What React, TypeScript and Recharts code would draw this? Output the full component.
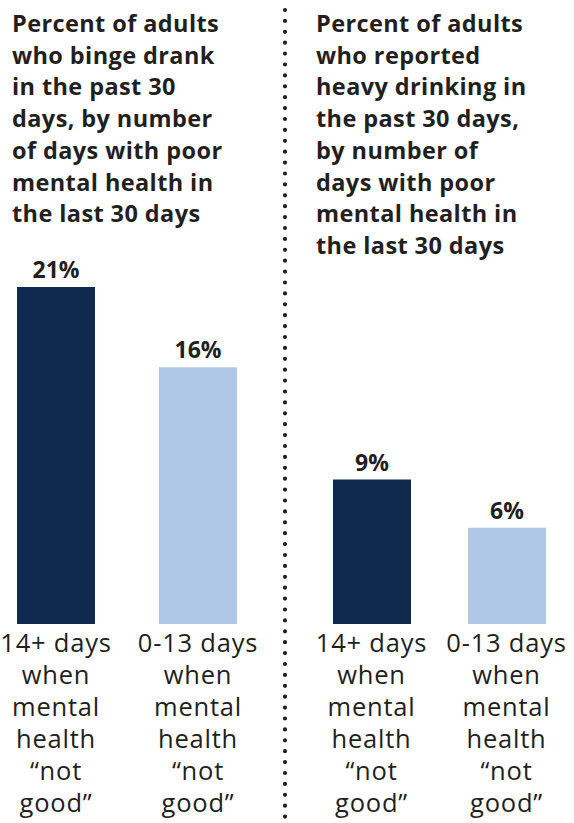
import React from 'react';
import { BarChart, Bar, XAxis, YAxis, Cell, LabelList } from 'recharts';

const groups = ['14+ days', '0-13 days'];
const tickLines: Record<string, string[]> = {
  '14+ days': ['14+ days', 'when', 'mental', 'health', '\u201cnot', 'good\u201d'],
  '0-13 days': ['0-13 days', 'when', 'mental', 'health', '\u201cnot', 'good\u201d'],
};
const bingeValues = [21, 16];
const heavyValues = [9, 6];
const barColors = ['#0f2a4e', '#b1c7e7'];

const leftTitle = [
  'Percent of adults',
  'who binge drank',
  'in the past 30',
  'days, by number',
  'of days with poor',
  'mental health in',
  'the last 30 days',
];
const rightTitle = [
  'Percent of adults',
  'who reported',
  'heavy drinking in',
  'the past 30 days,',
  'by number of',
  'days with poor',
  'mental health in',
  'the last 30 days',
];

const FONT = '"Open Sans", Lato, sans-serif';
const INK = '#231f20';

function MultiTick(props: any) {
  const { x, y, payload } = props;
  const lines = tickLines[payload.value] || [payload.value];
  return (
    <g>
      {lines.map((l, i) => (
        <text key={i} x={x} y={y + 28 + i * 32} textAnchor="middle" fontSize={25.5} letterSpacing={0.8} fontFamily={FONT} fill={INK}>
          {l}
        </text>
      ))}
    </g>
  );
}

function Panel({ values, left, width }: { values: number[]; left: number; width: number }) {
  const data = groups.map((g, i) => ({ group: g, value: values[i] }));
  return (
    <div style={{ position: 'absolute', left, top: 0 }}>
      <BarChart width={width} height={823} data={data} margin={{ top: 287, right: 0, left: 0, bottom: 0 }}>
        <XAxis dataKey="group" axisLine={false} tickLine={false} tickSize={0} tickMargin={0} height={199} interval={0} tick={<MultiTick />} />
        <YAxis hide domain={[0, 21]} />
        <Bar dataKey="value" barSize={78} isAnimationActive={false}>
          {data.map((d, i) => (
            <Cell key={d.group} fill={barColors[i]} />
          ))}
          <LabelList
            dataKey="value"
            position="top"
            offset={9}
            formatter={(v: any) => `${v}%`}
            style={{ fontFamily: FONT, fontSize: 23, fontWeight: 700, fill: INK }}
          />
        </Bar>
      </BarChart>
    </div>
  );
}

function Title({ lines, left }: { lines: string[]; left: number }) {
  return (
    <div
      style={{
        position: 'absolute',
        left,
        top: 8,
        fontFamily: FONT,
        fontWeight: 700,
        fontSize: 23.5,
        letterSpacing: 0.4,
        lineHeight: '31.7px',
        color: INK,
        whiteSpace: 'nowrap',
      }}
    >
      {lines.map((l, i) => (
        <div key={i}>{l}</div>
      ))}
    </div>
  );
}

export default function App() {
  return (
    <div style={{ position: 'absolute', left: 0, top: 0, width: 574, height: 823, background: '#fff', overflow: 'hidden' }}>
      <Title lines={leftTitle} left={12} />
      <Title lines={rightTitle} left={316} />
      <Panel values={bingeValues} left={-15} width={284} />
      <Panel values={heavyValues} left={304} width={270} />
      <svg style={{ position: 'absolute', left: 0, top: 0 }} width={574} height={823}>
        <line x1={285} y1={10} x2={285} y2={823} stroke={INK} strokeWidth={4.2} strokeLinecap="round" strokeDasharray="0 10.9" />
      </svg>
    </div>
  );
}
